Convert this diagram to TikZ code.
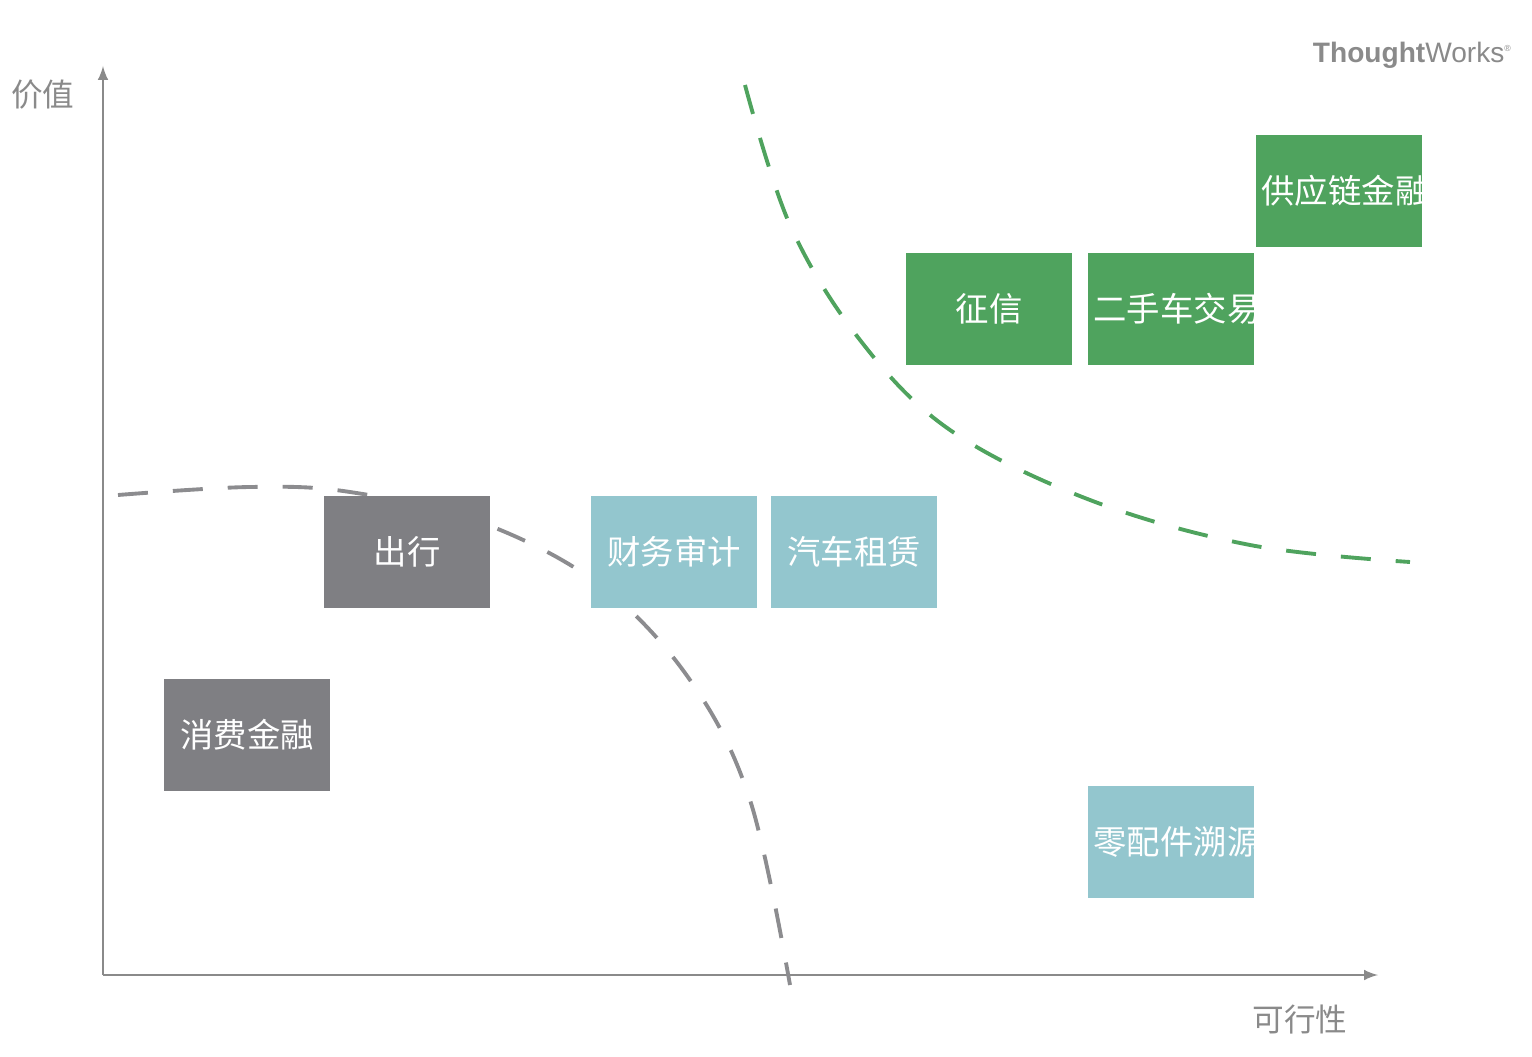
\documentclass[tikz,border=0pt]{standalone}
\usepackage{fontspec}
\newfontfamily\cjk{Noto Sans CJK SC}
\setsansfont{Liberation Sans}
\usetikzlibrary{positioning,arrows}
\definecolor{tgreen}{HTML}{4FA35E}
\definecolor{tgray}{HTML}{7F7F83}
\definecolor{tblue}{HTML}{93C6CE}
\definecolor{taxis}{HTML}{8A8A8A}

\begin{document}
\begin{tikzpicture}[x=0.02cm, y=-0.02cm,
    box/.style={rectangle, draw=none, minimum width=3.16cm, minimum height=2.26cm,
        text width=3.1cm, align=center, text=white, font=\cjk\fontsize{19}{28}\selectfont},
    good/.style={box, fill=tgreen},
    weak/.style={box, fill=tgray},
    maybe/.style={box, fill=tblue},
    axislabel/.style={text=taxis, font=\cjk\fontsize{18}{22}\selectfont},
    curve/.style={dashed, dash pattern=on 0.6cm off 0.5cm, line width=2.2pt}
]
\useasboundingbox (0,0) rectangle (1532,1057);

% axes
\coordinate (O) at (103,975);
\coordinate (Ytop) at (103,66);
\coordinate (Xend) at (1378,975);
\draw [taxis, line width=1.7pt, -latex] (O) -- (Ytop);
\draw [taxis, line width=1.7pt, -latex] (O) -- (Xend);
\node [axislabel] (Ylab) at (43,95) {价值};
\node [axislabel] (Xlab) at (1300,1020) {可行性};

% logo
\node [text=taxis, font=\sffamily\fontsize{16}{18}\selectfont, anchor=east] (Logo) at (1518,55)
    {\textbf{Thought}Works\textsuperscript{\tiny\textregistered}};

% boundaries
\draw [tgreen, curve] plot [smooth, tension=0.6] coordinates
    {(745,85) (790,225) (860,340) (950,430) (1090,500) (1250,545) (1410,562)};
\draw [tgray!90, curve] plot [smooth, tension=0.6] coordinates
    {(118,495) (250,487) (350,492) (480,522) (600,585) (690,680) (750,800) (790,985)};

% items
\node [good] (Supply) at (1339,191) {供应链金融};
\node [good] (Credit) at (989,309) {征信};
\node [good] (Used) at (1171,309) {二手车交易};
\node [weak] (Travel) at (407,552) {出行};
\node [maybe] (Audit) at (674,552) {财务审计};
\node [maybe] (Lease) at (854,552) {汽车租赁};
\node [weak] (Consumer) at (247,735) {消费金融};
\node [maybe] (Parts) at (1171,842) {零配件溯源};

\end{tikzpicture}
\end{document}
